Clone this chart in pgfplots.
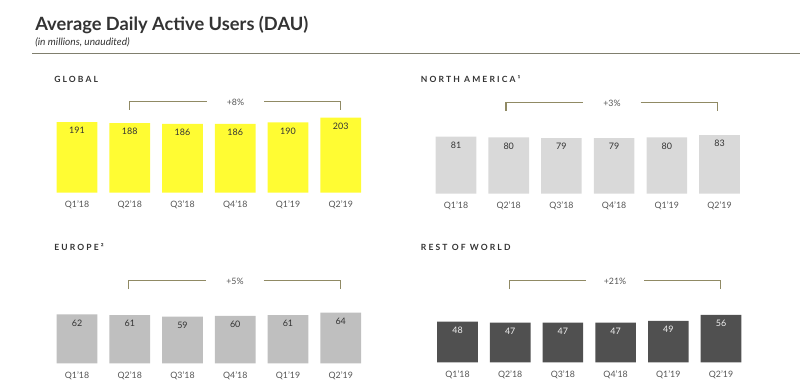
\documentclass[border=0pt]{standalone}
\usepackage{fontspec}
\setmainfont{Lato}
\usepackage{pgfplots}
\pgfplotsset{compat=1.18}
\definecolor{snapy}{RGB}{255,252,51}
\definecolor{nagray}{RGB}{217,217,217}
\definecolor{eugray}{RGB}{191,191,191}
\definecolor{rowgray}{RGB}{80,80,80}
\definecolor{brk}{RGB}{144,138,100}
\definecolor{rulec}{RGB}{128,127,110}
\definecolor{txt}{RGB}{51,51,51}
\definecolor{tickc}{RGB}{85,85,85}
\pgfplotsset{
  panel/.style={
    scale only axis,
    anchor=south west,
    xmin=-0.5, xmax=5.5, ymin=0,
    enlargelimits=false,
    axis line style={draw=none},
    ytick=\empty,
    xtick={0,1,2,3,4,5},
    xticklabels={Q1'18,Q2'18,Q3'18,Q4'18,Q1'19,Q2'19},
    major tick length=0pt,
    tick style={draw=none},
    xticklabel style={anchor=center, yshift=-9.2pt, font=\fontsize{6.6}{7}\selectfont, text=tickc},
    /pgf/number format/assume math mode=true,
    clip=false,
  },
  barplot/.style={
    ybar, bar width=30.45pt, draw=none, fill=#1,
    nodes near coords,
    every node near coord/.append style={anchor=center, yshift=-6.4pt, font=\fontsize{6.7}{7}\selectfont, text=txt},
  },
}
\tikzset{
  bracket/.style={draw=brk, line width=0.8pt},
  pct/.style={font=\fontsize{6.6}{7}\selectfont, text=tickc, inner sep=0pt, anchor=center},
  ptitle/.style={font=\fontsize{6.4}{7}\selectfont\bfseries\addfontfeature{LetterSpace=25}, text=txt, anchor=base west, inner sep=0pt},
}
\begin{document}
\begin{tikzpicture}
\useasboundingbox (0,0) rectangle (600pt,-294pt);
\begin{scope}[x=0.75pt,y=-0.75pt]
  \node[anchor=base west, inner sep=0pt, font=\fontsize{13.7}{15}\selectfont\bfseries, text=txt] at (35,30.3) {Average Daily Active Users (DAU)};
  \node[anchor=base west, inner sep=0pt, font=\fontsize{7.6}{9}\selectfont\itshape, text=txt] at (35,45.5) {(in millions, unaudited)};
  \draw[rulec, line width=0.9pt] (32.3,53.3) -- (800,53.3);
  \node[ptitle] at (54,82.7) {GLOBAL};
  \node[ptitle] at (420.7,82.7) {NORTH AMERICA¹};
  \node[ptitle] at (54,250.7) {EUROPE²};
  \node[ptitle] at (420.7,250.7) {REST OF WORLD};
\end{scope}

% Global
\begin{axis}[panel, at={(37.969pt,-144.525pt)}, width=237.375pt, height=61.05pt, ymax=220]
\addplot[barplot=snapy] coordinates {(0,191) (1,188) (2,186) (3,186) (4,190) (5,203)};
\end{axis}

% North America
\begin{axis}[panel, at={(322.24pt,-145.275pt)}, width=237.15pt, height=52.875pt, ymax=100]
\addplot[barplot=nagray] coordinates {(0,81) (1,80) (2,79) (3,79) (4,80) (5,83)};
\end{axis}

% Europe
\begin{axis}[panel, at={(37.969pt,-272.475pt)}, width=237.375pt, height=47.4pt, ymax=80]
\addplot[barplot=eugray] coordinates {(0,62) (1,61) (2,59) (3,60) (4,61) (5,64)};
\end{axis}

% Rest of World
\begin{axis}[panel, at={(323.36pt,-271.725pt)}, width=237.15pt, height=44.36pt, ymax=70]
\addplot[barplot=rowgray, every node near coord/.append style={text=white!94!black}] coordinates {(0,48) (1,47) (2,47) (3,47) (4,49) (5,56)};
\end{axis}

\begin{scope}[x=0.75pt,y=-0.75pt]
  % Global bracket
  \draw[bracket] (129.5,110) -- (129.5,101.7) -- (206.7,101.7);
  \draw[bracket] (264,101.7) -- (340.7,101.7) -- (340.7,110);
  \node[pct] at (235.5,102.3) {+8\%};
  % NA bracket
  \draw[bracket] (506,110.7) -- (506,102.7) -- (582.7,102.7);
  \draw[bracket] (640.7,102.7) -- (717.3,102.7) -- (717.3,110.7);
  \node[pct] at (612,102.9) {+3\%};
  % Europe bracket
  \draw[bracket] (128.3,289) -- (128.3,280.7) -- (205.7,280.7);
  \draw[bracket] (263.5,280.7) -- (340.3,280.7) -- (340.3,289);
  \node[pct] at (235,281) {+5\%};
  % ROW bracket
  \draw[bracket] (509.3,289) -- (509.3,280.7) -- (586,280.7);
  \draw[bracket] (644.3,280.7) -- (720.3,280.7) -- (720.3,289);
  \node[pct] at (615,281) {+21\%};
\end{scope}
\end{tikzpicture}
\end{document}
